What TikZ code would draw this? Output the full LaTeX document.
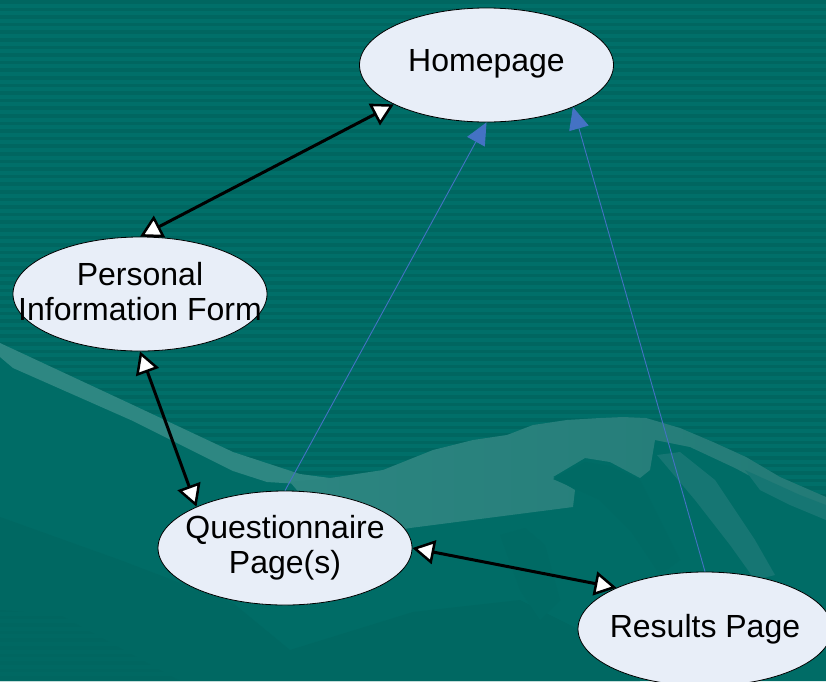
\documentclass[tikz,border=0pt]{standalone}
\usepackage{fontspec}
\setmainfont{Liberation Sans}
\usetikzlibrary{shapes.geometric,arrows.meta}
\definecolor{bgteal}{HTML}{006F69}
\definecolor{stripe}{HTML}{006660}
\definecolor{plain}{HTML}{006C66}
\definecolor{plaindark}{HTML}{006862}
\definecolor{band}{HTML}{2E8782}
\definecolor{mount}{HTML}{237B77}
\definecolor{chan}{HTML}{006A64}
\definecolor{streak}{HTML}{167673}
\definecolor{nodefill}{HTML}{E8EEF8}
\definecolor{bluel}{HTML}{4472C4}
\begin{document}
\begin{tikzpicture}[x=1pt,y=-1pt,
  page/.style={ellipse, draw=black, line width=0.8pt, fill=nodefill,
    minimum width=254pt, minimum height=114pt, inner sep=0pt},
  lbl/.style={font=\fontsize{32}{35}\selectfont, align=center, inner sep=0pt, text=black},
  both/.style={line width=3pt,
    {Triangle[fill=white,length=22pt,width=24pt,line width=2.5pt]}-{Triangle[fill=white,length=22pt,width=24pt,line width=2.5pt]}},
  link/.style={draw=bluel, line width=0.9pt, -{Triangle[length=22pt,width=20pt]}}]
\useasboundingbox (0,0) rectangle (826,681);
% background
\fill[bgteal] (0,0) rectangle (826,681);
\foreach \i in {0,...,90} \fill[stripe] (0,\i*7.6) rectangle (826,\i*7.6+3.6);
% plain lower region
\fill[plain] (0,357) -- (13,368) -- (133,420) -- (233,470) -- (267,480) -- (300,482) -- (383,470)
  -- (433,450) -- (473,440) -- (507,435) -- (533,425) -- (567,420) -- (600,418) -- (623,417) -- (646,418)
  -- (680,428) -- (713,442) -- (746,457) -- (780,477) -- (826,497) -- (826,681) -- (0,681) -- cycle;
\fill[plaindark] (0,517) -- (120,560) -- (233,603) -- (290,650) -- (413,612) -- (520,600)
  -- (600,640) -- (640,681) -- (0,681) -- cycle;
% lower-left stripe patch
\begin{scope}
  \clip (0,610) -- (60,615) -- (180,681) -- (0,681) -- cycle;
  \foreach \i in {80,...,90} \fill[stripe] (0,\i*7.6) rectangle (826,\i*7.6+3.6);
\end{scope}
% light band
\fill[band] (0,343) -- (133,405) -- (233,452) -- (300,474) -- (330,478) -- (330,486)
  -- (300,484) -- (267,482) -- (233,471) -- (133,421) -- (13,368) -- (0,357) -- cycle;
% mountain
\shade[left color=band!85!mount, right color=mount] (290,482) -- (330,478) -- (383,470) -- (433,450) -- (473,440)
  -- (507,435) -- (533,425) -- (567,420) -- (600,418)
  -- (623,417) -- (646,418) -- (680,428) -- (713,442) -- (746,457) -- (780,477) -- (826,497)
  -- (826,512) -- (780,492) -- (735,468) -- (690,447) -- (655,440) -- (650,470) -- (640,478)
  -- (610,462) -- (585,458) -- (553,477) -- (575,490) -- (573,507) -- (410,528) -- (340,540) -- cycle;
% channels and streaks
\fill[chan] (553,479) -- (585,462) -- (610,466) -- (640,480) -- (660,520) -- (680,560)
  -- (660,575) -- (630,530) -- (600,500) -- (578,490) -- cycle;
\fill[streak] (657,455) -- (680,452) -- (715,480) -- (755,540) -- (775,575) -- (755,580)
  -- (730,545) -- (695,500) -- cycle;
\fill[streak] (745,470) -- (800,495) -- (826,505) -- (826,520) -- (790,505) -- (760,490) -- cycle;
\fill[chan] (500,535) -- (525,528) -- (545,545) -- (560,600) -- (540,620) -- (520,590) -- cycle;
% nodes
\node[page] (home) at (486.5,65) {};
\node[lbl] (homet) at (486.5,64) {Homepage};
\node[page] (pers) at (140,294) {};
\node[lbl] (perst) at (140,292) {Personal\\Information Form};
\node[page] (quest) at (285,548) {};
\node[lbl] (questt) at (285,548) {Questionnaire\\Page(s)};
\node[page] (res) at (705,629) {};
\node[lbl] (rest) at (res) {Results Page};
% connectors
\draw[both] (pers.north) -- (home.203);
\draw[both] (pers.south) -- (quest.155);
\draw[both] (quest.east) -- (res.155);
\draw[link] (quest.north) -- (home.south);
\draw[link] (res.north) -- (home.334);
\end{tikzpicture}
\end{document}
